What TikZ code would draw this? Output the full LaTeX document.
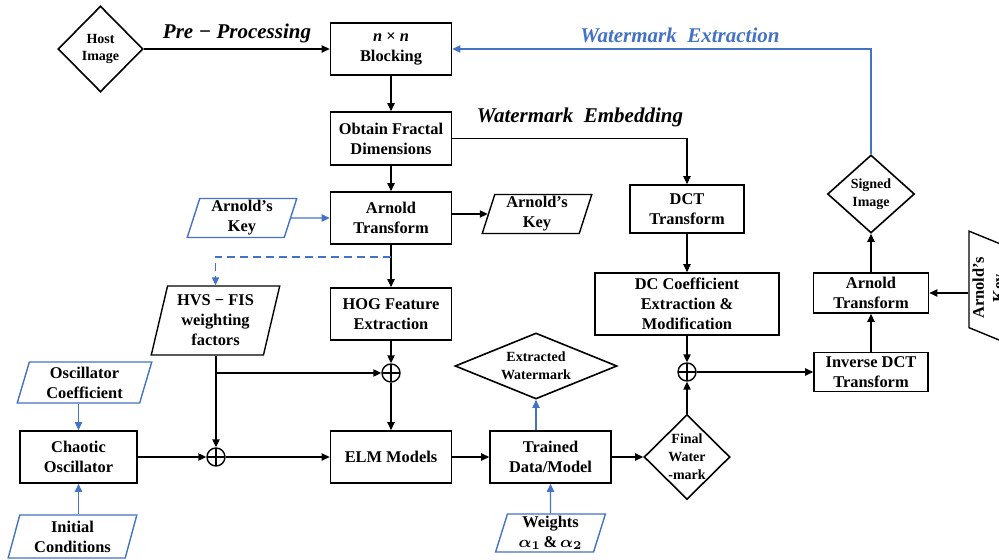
\documentclass[tikz,border=0pt]{standalone}
\usepackage{amsmath, amssymb}
\usepackage{fontspec}
\setmainfont{Liberation Serif}
\usepackage{tikz}
\usetikzlibrary{arrows.meta, calc, shapes.geometric}
\definecolor{ink}{RGB}{0,0,0}
\definecolor{keyblue}{RGB}{68,114,196}

\begin{document}
\begin{tikzpicture}[x=0.5pt, y=-0.5pt,
    box/.style={draw=ink, line width=0.8pt, inner sep=1pt, align=center, text=ink,
                font=\fontsize{8.2}{10}\selectfont\bfseries},
    key/.style={box, trapezium, trapezium left angle=76, trapezium right angle=104,
                trapezium stretches=true, line width=0.7pt},
    inkey/.style={key, draw=keyblue},
    dia/.style={box, diamond, inner sep=0pt, font=\fontsize{7}{8.9}\selectfont\bfseries},
    sum/.style={circle, draw=ink, line width=0.7pt, minimum size=9pt, inner sep=0pt,
                path picture={\draw[line width=0.6pt]
                  (path picture bounding box.north) -- (path picture bounding box.south)
                  (path picture bounding box.west) -- (path picture bounding box.east);}},
    stage/.style={font=\fontsize{10.5}{12}\selectfont\bfseries\itshape, text=ink},
    arr/.style={-{Triangle[length=4pt, width=3.6pt]}, draw=ink, line width=0.75pt},
    barr/.style={arr, draw=keyblue, line width=0.6pt}
  ]
  \useasboundingbox (0,0) rectangle (999,560);
  \clip (0,0) rectangle (999,560);

  % pre-processing
  \node[dia, minimum width=42.5pt, minimum height=43pt] (host) at (100.5,49) {Host\\Image};
  \node[box, minimum width=60.5pt, minimum height=26pt] (blk) at (391,49) {{\itshape n} × {\itshape n}\\Blocking};
  \node[box, minimum width=60.5pt, minimum height=26.5pt] (frac) at (391,138.5) {Obtain Fractal\\Dimensions};
  \node[box, minimum width=60.5pt, minimum height=26pt] (arn) at (391,218) {Arnold\\Transform};
  \node[inkey, minimum width=55pt, minimum height=19.5pt] (keyin) at (242,218) {Arnold’s\\Key};
  \node[key, minimum width=55pt, minimum height=19pt] (keyout) at (537,214) {Arnold’s\\Key};
  \node[box, minimum width=60.5pt, minimum height=26pt] (hog) at (391,314) {HOG Feature\\Extraction};
  \node[key, minimum width=64.5pt, minimum height=34.5pt] (hvs) at (215.5,320.5) {HVS − FIS\\weighting\\factors};

  % chaotic part and models
  \node[inkey, minimum width=67.5pt, minimum height=20.5pt] (osc) at (84.5,382.5) {Oscillator\\Coefficient};
  \node[box, minimum width=58.5pt, minimum height=26pt] (chaos) at (78.5,457) {Chaotic\\Oscillator};
  \node[inkey, minimum width=64.5pt, minimum height=21.5pt] (init) at (72.5,536.5) {Initial\\Conditions};
  \node[sum] (sumw) at (216,457) {};
  \node[sum] (sumf) at (391,373) {};
  \node[box, minimum width=60.5pt, minimum height=26pt] (elm) at (391,457) {ELM Models};
  \node[box, minimum width=60.5pt, minimum height=26pt] (trained) at (550.5,457) {Trained\\Data/Model};
  \node[inkey, minimum width=55pt, minimum height=19pt] (wts) at (550.5,533) {Weights\\$\boldsymbol{\alpha_1}$\,\&\,$\boldsymbol{\alpha_2}$};
  \node[dia, aspect=2.45, minimum width=81pt, minimum height=33pt] (extr) at (536,366) {Extracted\\Watermark};
  \node[dia, inner sep=-2pt, minimum width=43pt, minimum height=42.5pt] (final) at (687,457) {Final\\Water\\-mark};

  % embedding side
  \node[box, minimum width=57pt, minimum height=24pt] (dct) at (687,209) {DCT\\Transform};
  \node[box, minimum width=92pt, minimum height=31pt] (dcc) at (687,304) {DC Coefficient\\Extraction \&\\Modification};
  \node[sum] (sumd) at (687,372) {};
  \node[box, minimum width=57pt, minimum height=19.5pt] (idct) at (871,372) {Inverse DCT\\Transform};
  \node[box, minimum width=57.5pt, minimum height=20pt] (arnb) at (871,293) {Arnold\\Transform};
  \node[key, rotate=90, trapezium left angle=70, trapezium right angle=110,
        minimum width=57pt, minimum height=21pt] (keyb) at (990,288) {Arnold’s\\Key};
  \node[dia, minimum width=43.5pt, minimum height=39pt] (signed) at (871,194) {Signed\\Image};

  % stage labels
  \node[stage] (prelab) at (237,33) {Pre − Processing};
  \node[stage] (emblab) at (580,117) {Watermark\ \ Embedding};
  \node[stage, text=keyblue] (extlab) at (680,35) {Watermark\ \ Extraction};

  \coordinate (split) at (391,257);

  \draw[arr] (host) -- (blk);
  \draw[arr] (blk) -- (frac);
  \draw[arr] (frac) -- (arn);
  \draw[arr] (frac.east) -| (dct.north);
  \draw[barr] (keyin) -- (arn);
  \draw[arr] (arn.east |- keyout.west) -- (keyout.west);
  \draw[arr] (arn) -- (hog);
  \draw[barr, dash pattern=on 4pt off 2.5pt] (split) -| (hvs.center |- hvs.north);
  \draw[arr] (hog) -- (sumf);
  \draw[arr] (sumw |- hvs.south) -- (sumw);
  \draw[arr] (sumw |- sumf) -- (sumf);
  \draw[barr] (chaos |- osc.south) -- (chaos);
  \draw[barr] (chaos |- init.north) -- (chaos);
  \draw[arr] (chaos) -- (sumw);
  \draw[arr] (sumw) -- (elm);
  \draw[arr] (sumf) -- (elm);
  \draw[arr] (elm) -- (trained);
  \draw[arr] (trained) -- (final);
  \draw[barr] (wts) -- (trained);
  \draw[barr] (trained.north -| extr) -- (extr);
  \draw[arr] (final) -- (sumd);
  \draw[arr] (dct) -- (dcc);
  \draw[arr] (dcc) -- (sumd);
  \draw[arr] (sumd) -- (idct);
  \draw[arr] (idct) -- (arnb);
  \draw[arr] (arnb) -- (signed);
  \draw[arr] (keyb.north |- arnb.east) -- (arnb.east);
  \draw[barr] (signed.north) |- (blk.east);
\end{tikzpicture}
\end{document}
